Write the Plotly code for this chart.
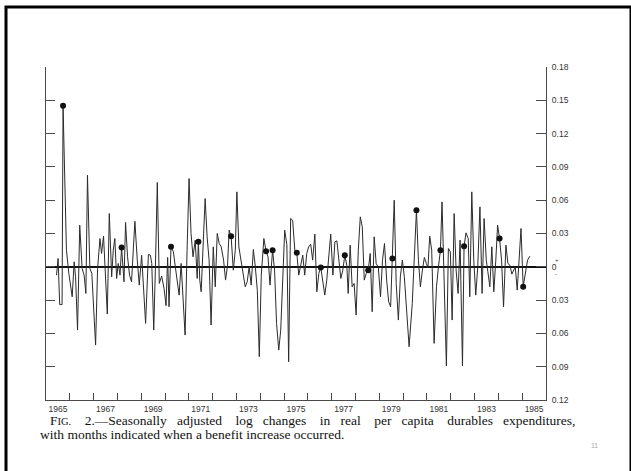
import plotly.graph_objects as go

# ---- data (months since Jan 1965, log change) ----
month_index = [
    5.3, 6.1, 6.9, 8.1, 8.6, 10.3, 11.5, 13.2, 14.2, 14.9, 15.9, 17.0, 18.2, 19.2, 20.1, 20.9,
    22.1, 23.1, 25.0, 26.0, 27.2, 28.0, 29.0, 30.0, 30.9, 31.9, 33.1, 33.9, 34.7, 35.6, 36.4,
    37.3, 38.1, 39.3, 40.1, 41.1, 42.1, 43.1, 44.8, 46.0, 47.0, 48.2, 49.2, 50.2, 51.6, 52.6,
    53.3, 54.3, 55.1, 56.1, 57.1, 58.3, 59.5, 60.5,
    61.3, 62.0, 63.0, 64.2, 65.4, 67.1, 68.1, 69.1, 70.1, 71.1, 72.1, 73.1, 74.1, 75.2, 76.2,
    76.8, 77.5, 78.2, 79.2, 80.2, 81.2, 82.2, 83.2, 84.3, 85.3, 86.3, 87.3, 88.3, 89.5, 90.5,
    91.5, 92.3, 93.3, 94.4, 95.4, 96.2, 97.2, 98.2, 99.2, 100.4, 101.4, 102.4, 103.4, 104.5,
    105.5, 106.5, 107.5, 108.5, 109.8, 110.9, 111.9, 112.9, 114.2, 115.2, 116.2, 117.3, 118.3,
    119.3, 120.3, 121.4, 122.3,
    123.3, 124.3, 125.4, 126.4, 127.4, 128.4, 129.4, 130.4, 131.4, 132.4, 133.4, 134.4, 135.5,
    136.5, 137.5, 138.5, 139.5, 140.5, 141.5, 142.5, 143.5, 144.6, 145.6, 146.6, 147.6, 148.6,
    149.6, 150.6, 151.6, 152.3, 153.3, 154.3, 155.3, 156.3, 157.4, 158.4, 159.4, 160.4, 161.4,
    162.4, 163.4, 164.4, 165.4, 166.4, 167.5, 168.6, 169.6, 170.6, 171.7, 172.7, 173.7, 174.6,
    175.5, 176.5, 177.6, 178.6, 179.6, 180.6, 181.6, 183.0,
    184.6, 185.6, 186.7, 187.7, 188.7, 189.7, 190.7, 191.7, 192.5, 193.4, 194.4, 195.6, 196.8,
    197.8, 198.8, 199.6, 200.8, 201.8, 202.8, 203.8, 204.7, 205.7, 206.7, 207.7, 208.7, 209.9,
    210.7, 211.7, 212.8, 213.6, 214.6, 215.6, 216.6, 217.6, 218.7, 219.8, 220.8, 221.9, 222.7,
    223.7, 224.7, 225.7, 226.7, 227.6, 228.6, 229.6, 230.6, 231.8, 232.8, 233.8, 234.8, 235.8,
    236.5, 237.5, 238.5, 239.4, 240.5, 241.6, 242.7, 243.9,
]
log_change = [
    -0.0075, 0.0075, -0.034, -0.034, 0.145, 0.015, -0.006, -0.027, 0.0045, -0.009, -0.057,
    0.0375, -0.0015, -0.0075, -0.024, 0.0825, -0.0015, -0.006, -0.0705, -0.0015, 0.0255, 0.012,
    0.0276, -0.018, -0.0426, 0.048, -0.009, 0.015, 0.0255, -0.0105, 0.003, -0.0075, 0.0174,
    -0.0135, 0.040, 0.009, -0.0075, -0.0135, 0.041, 0.006, -0.0165, 0.0105, -0.027, -0.051,
    0.011, 0.0105, 0.003, -0.057, -0.003, 0.076, -0.015, -0.0084, -0.0195, -0.035,
    0.0084, -0.036, 0.018, 0.0135, -0.003, -0.0255, 0.003, -0.03, -0.0615, 0.015, 0.0795, 0.03,
    0.009, 0.024, -0.0105, 0.0225, -0.012, -0.0225, 0.018, 0.0615, 0.027, 0.006, -0.0525, 0.018,
    -0.018, 0.030, 0.021, 0.018, 0.006, -0.012, 0.0015, 0.033, 0.0276, -0.003, 0.015, 0.0675,
    0.018, 0.006, -0.0075, -0.018, -0.0135, 0.0, -0.0165, 0.0156, 0.0, -0.021, -0.081, -0.0075,
    0.0255, 0.014, 0.009, -0.0165, 0.015, -0.003, -0.051, -0.075, -0.057, -0.012, 0.033, 0.02,
    -0.0855,
    0.0435, 0.042, 0.015, 0.0126, -0.0075, 0.003, 0.0105, -0.0075, 0.012, 0.018, 0.0204, 0.006,
    0.0294, -0.0225, -0.006, -0.0006, -0.012, -0.0255, -0.012, 0.009, 0.0294, -0.0075, 0.0225,
    0.0234, 0.006, -0.0105, -0.003, 0.0105, 0.0015, -0.024, 0.0195, -0.018, -0.015, -0.0435,
    0.015, 0.045, 0.036, -0.012, -0.006, -0.003, 0.012, -0.0405, 0.027, 0.003, -0.0006, -0.027,
    0.006, 0.021, -0.012, -0.0315, -0.036, 0.0075, 0.06, -0.015, -0.048, -0.009, 0.006, -0.009,
    -0.033, -0.072,
    -0.033, 0.015, 0.051, 0.006, -0.018, -0.003, 0.0084, 0.003, -0.0006, 0.0276, 0.015, -0.069,
    -0.018, 0.0, 0.015, 0.0585, -0.027, -0.0894, 0.0165, 0.0135, -0.048, 0.048, -0.003, -0.024,
    0.024, -0.0894, 0.0186, 0.0306, 0.0255, -0.027, 0.0675, 0.006, -0.0255, 0.0, 0.054, -0.024,
    0.0435, 0.006, -0.0045, -0.018, 0.018, -0.0225, 0.006, 0.0375, 0.0255, 0.006, -0.036,
    0.0195, 0.003, 0.0015, -0.0066, -0.003, 0.0, -0.021, 0.015, 0.0345, -0.018, -0.006, 0.006,
    0.0096,
]
benefit_month = [8.6, 38.1, 63.0, 76.8, 93.3, 110.9, 114.2, 126.4, 138.5, 150.6, 162.4,
                 174.6, 186.7, 198.8, 210.7, 228.6, 240.5]
benefit_value = [0.145, 0.0174, 0.018, 0.0225, 0.0276, 0.014, 0.015, 0.0126, -0.0006, 0.0105,
                 -0.003, 0.0075, 0.051, 0.015, 0.0186, 0.0255, -0.018]

ytick_vals = [0.18, 0.15, 0.12, 0.09, 0.06, 0.03, 0.0, -0.03, -0.06, -0.09, -0.12]
ytick_text = ["0.18", "0.15", "0.12", "0.09", "0.06", "0.03", "0", "0.03", "0.06", "0.09", "0.12"]
year_labels = ["1965", "1967", "1969", "1971", "1973", "1975", "1977", "1979", "1981", "1983", "1985"]
year_label_pos = [int(y) + 0.5 for y in year_labels]
year_ticks = list(range(1966, 1986))

caption_line1_words = ["F<span style='font-size:10.5px'>IG.</span>", "2.—Seasonally", "adjusted", "log",
                       "changes", "in", "real", "per", "capita", "durables", "expenditures,"]
caption_line2 = "with months indicated when a benefit increase occurred."

t = [1965 + m / 12 for m in month_index]
bt = [1965 + m / 12 for m in benefit_month]

AX = "#4a4a4a"
fig = go.Figure()
fig.add_trace(go.Scatter(x=t, y=log_change, mode="lines",
                         line=dict(color="#2b2b2b", width=1), hoverinfo="skip", showlegend=False))
fig.add_trace(go.Scatter(x=bt, y=benefit_value, mode="markers",
                         marker=dict(color="#111", size=6), hoverinfo="skip", showlegend=False))
fig.add_trace(go.Scatter(x=[1965], y=[0], yaxis="y2", mode="markers",
                         marker=dict(opacity=0), hoverinfo="skip", showlegend=False))

tickfont = dict(family="Liberation Sans, Arial, sans-serif", size=8.5, color="#333")
fig.update_layout(
    width=631, height=471,
    margin=dict(l=46, r=85, t=67, b=71),
    paper_bgcolor="white", plot_bgcolor="white",
    showlegend=False,
    xaxis=dict(range=[1965, 1986], showgrid=False, zeroline=False,
               showline=True, linecolor=AX, linewidth=1.3,
               tickmode="array", tickvals=year_label_pos, ticktext=year_labels,
               ticks="", tickfont=tickfont, ticklabelstandoff=1,
               minor=dict(tickmode="array", tickvals=year_ticks, ticks="inside",
                          ticklen=7, tickcolor=AX, tickwidth=1, showgrid=False)),
    yaxis=dict(range=[-0.12, 0.18], side="right", showgrid=False,
               zeroline=True, zerolinecolor="#111", zerolinewidth=1.5,
               showline=True, linecolor=AX, linewidth=1.3,
               tickmode="array", tickvals=ytick_vals, ticktext=ytick_text,
               ticks="inside", ticklen=10, tickcolor=AX, tickwidth=1,
               tickfont=tickfont, ticklabelstandoff=3),
    yaxis2=dict(range=[-0.12, 0.18], side="left", overlaying="y", showgrid=False,
                zeroline=False, showline=True, linecolor=AX, linewidth=1.3,
                tickmode="array", tickvals=ytick_vals, showticklabels=False,
                ticks="inside", ticklen=9, tickcolor=AX, tickwidth=1),
)

serif = "Liberation Serif, Times New Roman, serif"
line1 = caption_line1_words[0]
for i, w in enumerate(caption_line1_words[1:]):
    line1 += " " + "\u00a0" * (3 if i % 2 == 0 else 2) + w
fig.add_annotation(xref="paper", yref="paper", x=0.004, y=-0.063, xanchor="left", yanchor="middle",
                   showarrow=False, text=line1,
                   font=dict(family=serif, size=13.5, color="#111"))
fig.add_annotation(xref="paper", yref="paper", x=-0.016, y=-0.105, xanchor="left", yanchor="middle",
                   showarrow=False, text=caption_line2,
                   font=dict(family=serif, size=13.5, color="#111"))
fig.add_annotation(xref="paper", yref="paper", x=1.108, y=-0.153, showarrow=False, text="11",
                   font=dict(family="Liberation Sans, Arial, sans-serif", size=7, color="#aaa"))
fig.add_annotation(xref="paper", yref="y", x=1, y=0, xanchor="left", xshift=7, yshift=7,
                   showarrow=False, text="+", font=dict(family="Liberation Sans", size=6, color="#333"))
fig.add_annotation(xref="paper", yref="y", x=1, y=0, xanchor="left", xshift=7, yshift=-7,
                   showarrow=False, text="-", font=dict(family="Liberation Sans", size=6, color="#333"))

fig.add_shape(type="rect", xref="paper", yref="paper", x0=-0.08, x1=1.17, y0=-0.3, y1=1.1802,
              line=dict(color="black", width=3), fillcolor="rgba(0,0,0,0)", layer="above")

fig.write_html("out.html", config={"displayModeBar": False},
               post_script="document.body.style.margin='0';document.body.style.overflow='hidden';")
